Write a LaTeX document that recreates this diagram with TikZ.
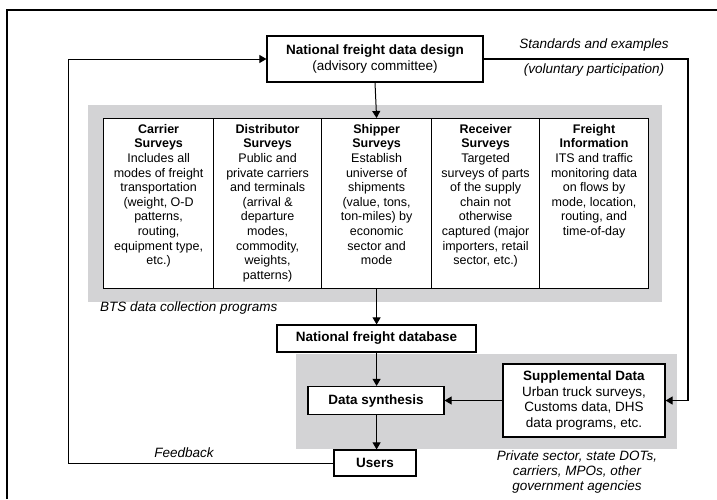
\documentclass[tikz,border=0pt]{standalone}
\usepackage{fontspec}
\setmainfont{Liberation Sans}
\usetikzlibrary{arrows.meta}
\definecolor{panelgray}{RGB}{211,211,213}
\begin{document}
\begin{tikzpicture}[x=1pt,y=-1pt,
  box/.style={draw, line width=1.2pt, inner sep=0pt, align=center, fill=white,
    font=\fontsize{13.5}{16}\selectfont\bfseries},
  colbox/.style={draw, line width=1.2pt, inner sep=0pt, anchor=north west, fill=white,
    minimum height=170pt},
  coltext/.style={anchor=north, inner sep=0pt, align=center,
    font=\fontsize{12.5}{14.6}\selectfont},
  lab/.style={inner sep=0pt, align=center, font=\fontsize{13.5}{15}\selectfont\itshape},
  arr/.style={line width=1pt, -{Triangle[length=7pt,width=8pt]}},
  thickln/.style={line width=2.6pt}]
\useasboundingbox (0,0) rectangle (717,499);
% outer frame
\draw[line width=2pt] (7,499) -- (7,10) -- (717,10);
% gray panels
\fill[panelgray] (88,105) rectangle (662,302);
\fill[panelgray] (296,354) rectangle (677,449);
% top box
\node[box, minimum width=216pt, minimum height=46pt] (top) at (375,59)
  {National freight data design\\\mdseries (advisory committee)};
% columns
\node[colbox, minimum width=110pt] (c1) at (103,118) {};
\node[colbox, minimum width=108pt] (c2) at (213,118) {};
\node[colbox, minimum width=110pt] (c3) at (321,118) {};
\node[colbox, minimum width=108pt] (c4) at (431,118) {};
\node[colbox, minimum width=109pt] (c5) at (539,118) {};
\node[coltext] (t1) at ([yshift=-6pt]c1.north)
  {\textbf{Carrier}\\\textbf{Surveys}\\Includes all\\modes of freight\\transportation\\(weight, O-D\\patterns,\\routing,\\equipment type,\\etc.)};
\node[coltext] (t2) at ([yshift=-6pt]c2.north)
  {\textbf{Distributor}\\\textbf{Surveys}\\Public and\\private carriers\\and terminals\\(arrival \&\\departure\\modes,\\commodity,\\weights,\\patterns)};
\node[coltext] (t3) at ([yshift=-6pt]c3.north)
  {\textbf{Shipper}\\\textbf{Surveys}\\Establish\\universe of\\shipments\\(value, tons,\\ton-miles) by\\economic\\sector and\\mode};
\node[coltext] (t4) at ([yshift=-6pt]c4.north)
  {\textbf{Receiver}\\\textbf{Surveys}\\Targeted\\surveys of parts\\of the supply\\chain not\\otherwise\\captured (major\\importers, retail\\sector, etc.)};
\node[coltext] (t5) at ([yshift=-6pt]c5.north)
  {\textbf{Freight}\\\textbf{Information}\\ITS and traffic\\monitoring data\\on flows by\\mode, location,\\routing, and\\time-of-day};
% lower boxes
\node[box, minimum width=199pt, minimum height=27pt] (nfdb) at (376.5,338.5) {National freight database};
\node[box, minimum width=136pt, minimum height=28pt] (synth) at (376,400.5) {Data synthesis};
\node[box, minimum width=82pt, minimum height=26pt] (users) at (375,463) {Users};
\node[box, minimum width=162pt, minimum height=73pt, font=\fontsize{13.5}{15.7}\selectfont] (supp) at (584,400.5)
  {\textbf{Supplemental Data}\\Urban truck surveys,\\Customs data, DHS\\data programs, etc.};
% labels
\node[lab] (std) at (594,45) {Standards and examples};
\node[lab] (vol) at (594,70) {(voluntary participation)};
\node[lab, anchor=west] (bts) at (100,308) {BTS data collection programs};
\node[lab] (fb) at (184,453) {Feedback};
\node[lab] (priv) at (577,472) {Private sector, state DOTs,\\carriers, MPOs, other\\government agencies};
% connectors
\coordinate (fbc) at (68,59);
\coordinate (rc) at (688,59);
\draw[arr] (top.south) -- (c3.north);
\draw[arr] (c3.south) -- (nfdb.north -| c3.south);
\draw[arr] (nfdb.south -| c3.south) -- (synth.north -| c3.south);
\draw[arr] (synth.south -| c3.south) -- (users.north -| c3.south);
\draw[arr] (supp.west) -- (synth.east);
\draw[arr] (users.west) -| (fbc) -- (top.west);
\draw[arr, line width=1.2pt] (rc) |- (supp.east);
\draw[thickln] (top.east) -- ([xshift=0.6pt]rc);
\end{tikzpicture}
\end{document}
